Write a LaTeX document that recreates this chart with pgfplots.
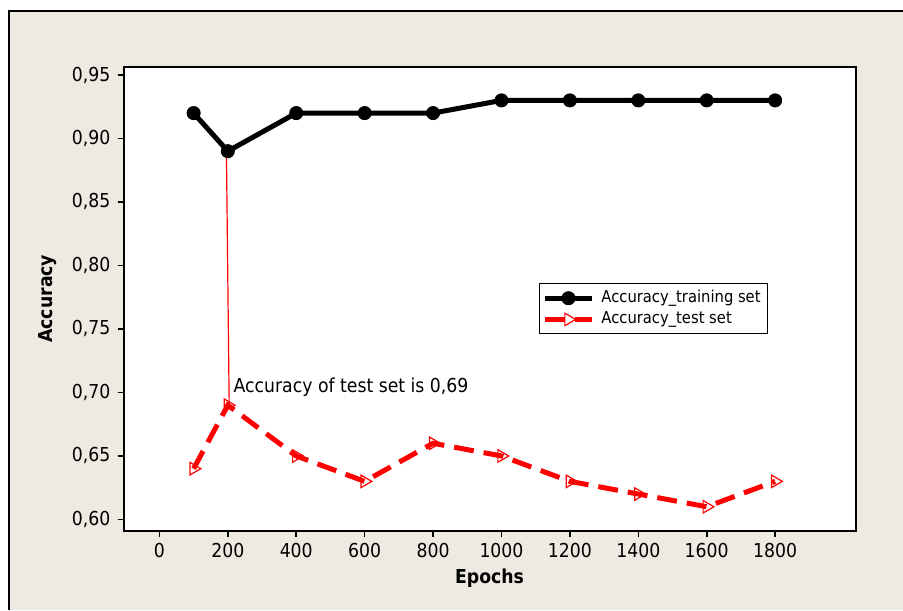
\documentclass[border=0pt]{standalone}
\usepackage{pgfplots}
\pgfplotsset{compat=1.18}
\usepackage{fontspec}
\setmainfont{DejaVu Sans Condensed}[BoldFont={DejaVu Sans Condensed Bold}]
\definecolor{bgbeige}{RGB}{238,234,225}
\begin{document}
\begin{tikzpicture}
\useasboundingbox (0,0) rectangle (451.5pt,-305pt);
\fill[white] (0,0) rectangle (451.5pt,-305pt);
\fill[bgbeige] (4.5pt,-5.5pt) rectangle (451.5pt,-305pt);
\draw[line width=0.7pt] (4.5pt,-305pt) -- (4.5pt,-5.5pt) -- (451.5pt,-5.5pt);
\begin{axis}[
  at={(61.75pt,-265.25pt)}, anchor=south west,
  scale only axis, width=366pt, height=231.75pt,
  axis background/.style={fill=white},
  axis line style={line width=1pt},
  xmin=-105, xmax=2035, ymin=0.5913, ymax=0.9563,
  xtick={0,200,...,1800},
  ytick={0.60,0.65,0.70,0.75,0.80,0.85,0.90,0.95},
  tick align=outside, major tick length=3pt,
  tick style={line width=0.8pt, black},
  xtick pos=bottom, ytick pos=left,
  /pgf/number format/assume math mode=true,
  xticklabel style={/pgf/number format/1000 sep={}},
  yticklabel style={/pgf/number format/.cd, fixed, fixed zerofill, precision=2, use comma},
  tick label style={font=\fontsize{9.6}{11}\selectfont},
  xlabel={Epochs}, ylabel={Accuracy},
  xlabel style={at={(axis description cs:0.5,-0.1025)}, anchor=center, font=\fontsize{9.6}{11}\selectfont\bfseries},
  ylabel style={at={(axis description cs:-0.1031,0.5)}, anchor=center, rotate=0, font=\fontsize{9.6}{11}\selectfont\bfseries},
  legend style={at={(0.5676,0.534)}, anchor=north west, draw=black, line width=0.5pt,
    font=\fontsize{8.2}{9.5}\selectfont, cells={anchor=west}, inner sep=1.5pt, row sep=-1pt},
  legend image code/.code={\draw[mark repeat=2,mark phase=2,#1] plot coordinates {(0pt,0pt) (11.75pt,0pt) (23.5pt,0pt)};},
  clip=false,
]
\addplot[black, line width=2.5pt, mark=*, mark size=3.3pt, mark options={line width=0.4pt}] coordinates {
  (100,0.92) (200,0.89) (400,0.92) (600,0.92) (800,0.92) (1000,0.93) (1200,0.93) (1400,0.93) (1600,0.93) (1800,0.93)};
\addlegendentry{\hspace{1.5pt}Accuracy\_training set\hspace{11pt}}
\addplot[red, line width=2.5pt, dash pattern=on 10pt off 5pt, mark=triangle, mark size=3.6pt,
  mark options={solid, fill=none, line width=0.6pt, rotate=-90}] coordinates {
  (100,0.64) (200,0.69) (400,0.65) (600,0.63) (800,0.66) (1000,0.65) (1200,0.63) (1400,0.62) (1600,0.61) (1800,0.63)};
\addlegendentry{\hspace{1.5pt}Accuracy\_test set}
\addplot[red, line width=0.6pt, no marks, forget plot] coordinates {(196,0.887) (204,0.689)};
\node[anchor=base west, inner sep=0pt, font=\fontsize{9.6}{11}\selectfont] at (axis cs:216,0.70) {Accuracy of test set is 0,69};
\end{axis}
\end{tikzpicture}
\end{document}
